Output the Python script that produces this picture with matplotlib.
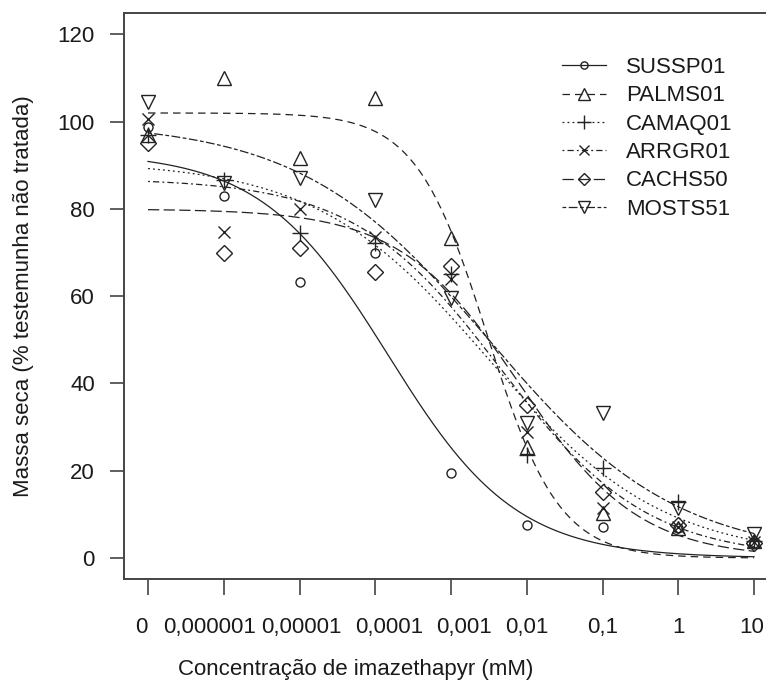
"""
Dose-response curves (log-logistic fits) of dry mass vs imazethapyr concentration.
"""

import numpy as np
import matplotlib.pyplot as plt
import matplotlib.transforms as mtransforms
from matplotlib.lines import Line2D

plt.rcParams['font.family'] = ['Liberation Sans', 'DejaVu Sans']

# dose labels, one per tick position (0 is drawn at the first position)
dose_labels = ['0', '0,000001', '0,00001', '0,0001', '0,001', '0,01', '0,1', '1', '10']
log_dose = [-7, -6, -5, -4, -3, -2, -1, 0, 1]

genotypes = ['SUSSP01', 'PALMS01', 'CAMAQ01', 'ARRGR01', 'CACHS50', 'MOSTS51']

sussp01 = [98.7, 83.0, 63.2, 70.0, 19.5, 7.6, 7.1, 6.9, 3.5]
palms01 = [97.0, 110.0, 91.6, 105.4, 73.3, 25.4, 10.3, 7.0, 3.8]
camaq01 = [97.0, 86.6, 74.5, 72.2, 65.0, 23.6, 20.6, 12.8, 4.0]
arrgr01 = [100.5, 74.7, 80.0, 73.5, 64.0, 28.9, 11.5, 7.2, 3.6]
cachs50 = [95.0, 70.0, 71.0, 65.5, 67.0, 35.0, 15.1, 7.5, 3.4]
mosts51 = [104.5, 86.0, 87.0, 82.0, 59.5, 31.0, 33.2, 11.4, 5.5]

# fitted log-logistic parameters: slope b, lower c, upper d, log10(ED50)
slope_b = [0.515, 0.92, 0.38, 0.45, 0.55, 0.35]
lower_c = [0.0, 0.0, 0.0, 0.0, 0.0, 0.0]
upper_d = [93.0, 102.0, 91.0, 87.0, 80.0, 100.0]
log_ed50 = [-3.83, -2.52, -2.5, -2.35, -2.1, -2.5]

observed = [sussp01, palms01, camaq01, arrgr01, cachs50, mosts51]
markers = ['o', '^', '+', 'x', 'D', 'v']
msizes = [6.5, 10, 12, 9, 8, 10]
dashes = [(None, None), (6, 4), (1.5, 2.5), (1.5, 2.5, 5, 2.5), (9, 3.5), (3, 2, 7, 2)]
# the tick labels in the original sit a little off their ticks (pixels)
label_shift = [-7, -14, 2, 14, 13, 0, 0, 0, -2]


def loglogistic(t, b, c, d, e):
   return c + (d - c) / (1 + 10 ** (b * (t - e)))


fig = plt.figure(figsize=(7.66, 6.93), dpi=100)
ax = fig.add_axes([124 / 766, 1 - 579 / 693, 1 - 124 / 766, (579 - 13) / 693])

pos = np.arange(len(dose_labels))
grid = np.linspace(0, len(dose_labels) - 1, 400)
line_col = '#222222'

handles = []
for i, name in enumerate(genotypes):
   fit = loglogistic(grid + log_dose[0], slope_b[i], lower_c[i], upper_d[i], log_ed50[i])
   ls = '-' if dashes[i][0] is None else (0, dashes[i])
   ax.plot(grid, fit, color=line_col, lw=0.9, linestyle=ls)
   ax.plot(pos, observed[i], linestyle='none', marker=markers[i], ms=msizes[i],
           mfc='none', mec=line_col, mew=1.0)
   handles.append(Line2D([], [], color=line_col, lw=0.9, linestyle=ls,
                         marker=markers[i], ms=msizes[i] * 0.8, mfc='none', mec=line_col))

ax.set_xlim(-0.317, -0.317 + 642 / 75.75)
ax.set_ylim(-4.8, 124.9)
ax.set_xticks(pos)
ax.set_xticklabels(dose_labels)
ax.set_yticks(np.arange(0, 121, 20))

for side in ['left', 'bottom', 'top']:
   ax.spines[side].set_color('#444444')
   ax.spines[side].set_linewidth(1.4)
ax.spines['right'].set_visible(False)

ax.tick_params(axis='y', direction='out', length=10, width=1.2, color='#444444',
               labelsize=16, pad=11, labelcolor='#1a1a1a')
ax.tick_params(axis='x', direction='out', length=11.5, width=1.2, color='#444444',
               labelsize=16, pad=16, labelcolor='#1a1a1a')

for lab, dx in zip(ax.get_xticklabels(), label_shift):
   lab.set_transform(lab.get_transform() + mtransforms.ScaledTranslation(dx / 100, 0, fig.dpi_scale_trans))

ax.set_ylabel('Massa seca (% testemunha não tratada)', fontsize=16, color='#1a1a1a')
ax.yaxis.set_label_coords(-0.14, 0.5)
ax.set_xlabel('Concentração de imazethapyr (mM)', fontsize=16, color='#1a1a1a')
ax.xaxis.set_label_coords((356 - 124) / 642, -0.141)

ax.legend(handles, genotypes, loc='upper left', bbox_to_anchor=(0.682, 0.922),
          frameon=False, fontsize=16, handlelength=2.0, handletextpad=0.9,
          labelspacing=0.33, borderpad=0, borderaxespad=0, labelcolor='#1a1a1a')

plt.savefig('out.png', dpi=100)
